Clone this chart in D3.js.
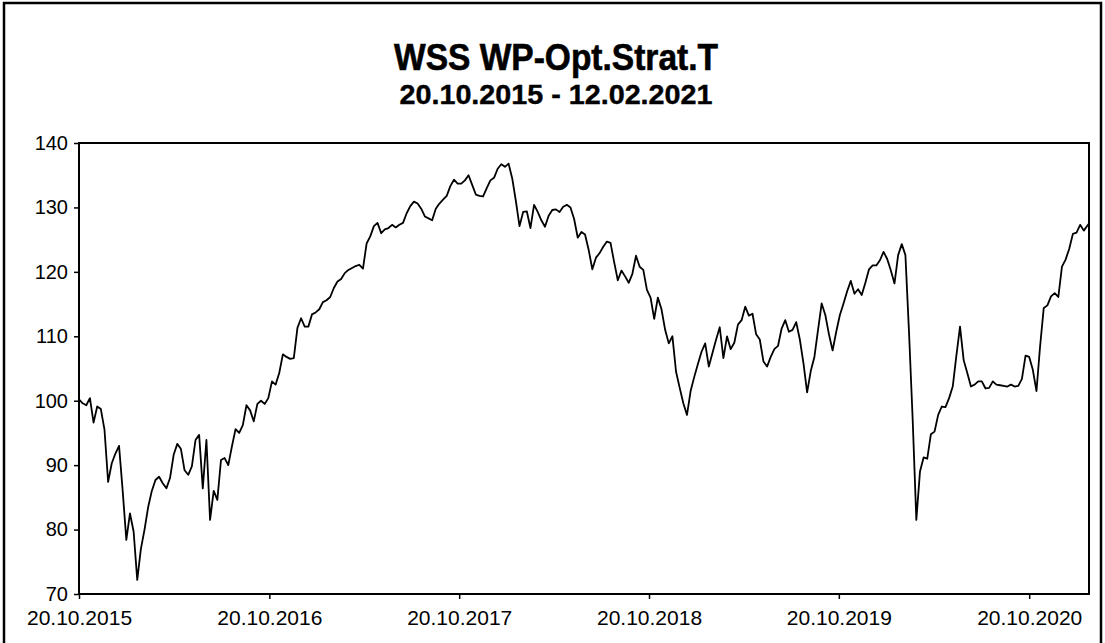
<!DOCTYPE html>
<html>
<head>
<meta charset="utf-8">
<script src="https://cdn.jsdelivr.net/npm/d3@7"></script>
<style>
  body { margin: 0; background: #fff; }
  svg { display: block; }
</style>
</head>
<body>
<svg width="1105" height="643"></svg>
<script>
const chartTitle = 'WSS WP-Opt.Strat.T';
const chartSubtitle = '20.10.2015 - 12.02.2021';

// weekly closes from 20.10.2015, last value is 12.02.2021
const startDate = '2015-10-20';
const endDate = '2021-02-12';
const values = [
  100.2, 99.6, 99.3, 100.4, 96.6, 99.1, 98.7, 95.5, 87.4, 90.3,
  91.8, 93.0, 86.0, 78.4, 82.5, 79.7, 72.2, 77.0, 80.0, 83.5,
  86.0, 87.7, 88.2, 87.2, 86.4, 88.0, 91.6, 93.3, 92.5, 89.2,
  88.5, 89.8, 93.9, 94.7, 86.4, 93.9, 81.5, 86.0, 84.6, 90.8,
  91.1, 90.0, 92.9, 95.6, 95.0, 96.2, 99.3, 98.5, 96.8, 99.5,
  100.0, 99.5, 100.4, 103.0, 102.5, 104.3, 107.2, 106.8, 106.5, 106.6,
  111.3, 112.8, 111.5, 111.5, 113.4, 113.7, 114.2, 115.3, 115.6, 116.1,
  117.5, 118.5, 118.9, 119.8, 120.3, 120.6, 120.9, 121.1, 120.5, 124.4,
  125.5, 127.1, 127.6, 126.0, 126.6, 126.8, 127.3, 126.9, 127.3, 127.6,
  129.1, 130.2, 130.9, 130.6, 129.8, 128.6, 128.3, 128.0, 129.8, 130.6,
  131.2, 131.8, 133.3, 134.3, 133.7, 133.7, 134.2, 135.0, 133.5, 132.0,
  131.8, 131.7, 133.0, 134.2, 134.6, 136.0, 136.7, 136.3, 136.8, 134.5,
  131.0, 127.1, 129.3, 129.4, 126.8, 130.4, 129.3, 128.0, 127.0, 128.7,
  129.6, 129.7, 129.3, 130.1, 130.4, 130.0, 128.2, 125.3, 126.2, 125.8,
  123.4, 120.4, 122.2, 122.9, 123.9, 124.7, 124.5, 121.5, 118.7, 120.2,
  119.3, 118.3, 119.7, 122.5, 120.8, 120.3, 117.2, 116.0, 112.7, 116.0,
  114.2, 111.0, 108.9, 110.0, 104.5, 102.0, 99.6, 97.8, 101.5, 103.7,
  105.7, 107.6, 108.9, 105.3, 107.4, 109.5, 111.4, 106.6, 110.0, 108.0,
  109.0, 111.8, 112.5, 114.6, 113.2, 113.5, 110.3, 109.5, 106.1, 105.3,
  106.8, 108.0, 108.5, 111.2, 112.5, 110.7, 111.0, 112.2, 109.5, 105.8,
  101.3, 104.6, 106.8, 111.0, 115.1, 113.3, 110.3, 107.8, 110.7, 113.3,
  115.1, 117.0, 118.6, 116.6, 117.3, 116.4, 118.3, 120.4, 121.0, 121.0,
  121.8, 123.1, 122.0, 120.2, 118.2, 122.6, 124.3, 122.6, 110.5, 97.0,
  81.5, 89.0, 91.2, 91.0, 94.8, 95.2, 97.8, 99.1, 99.0, 100.4,
  102.2, 107.0, 111.5, 106.3, 104.3, 102.2, 102.5, 103.0, 103.0, 101.9,
  102.0, 103.0, 102.5, 102.4, 102.3, 102.2, 102.5, 102.2, 102.3, 103.4,
  107.0, 106.8, 104.8, 101.5, 108.5, 114.4, 114.8, 116.2, 116.7, 116.1,
  120.8, 121.9, 123.6, 125.9, 126.1, 127.3, 126.4, 127.2,
  127.5
];

const xTickLabels = ['20.10.2015', '20.10.2016', '20.10.2017', '20.10.2018', '20.10.2019', '20.10.2020'];
const yTicks = [70, 80, 90, 100, 110, 120, 130, 140];

const parseIso = d3.timeParse('%Y-%m-%d');
const parseDe = d3.timeParse('%d.%m.%Y');
const start = parseIso(startDate);
const end = parseIso(endDate);

const data = values.map((v, i) => ({
    date: i === values.length - 1 ? end : d3.timeDay.offset(start, 7 * i),
    value: v
}));

const svg = d3.select('svg');
const font = "'Liberation Sans', Arial, sans-serif";

const margin = { top: 143, right: 16, bottom: 49, left: 79 };
const width = 1105, height = 643;
const innerWidth = width - margin.left - margin.right;
const innerHeight = height - margin.top - margin.bottom;

// outer frame (bottom edge falls outside the picture)
svg.append('path')
    .attr('d', 'M4,643V3H1101V643')
    .attr('fill', 'none')
    .attr('stroke', '#000')
    .attr('stroke-width', 2.5);

svg.append('text')
    .attr('x', 556).attr('y', 70)
    .attr('text-anchor', 'middle')
    .attr('font-family', font)
    .attr('font-weight', 'bold')
    .attr('font-size', 37)
    .attr('textLength', 324)
    .attr('lengthAdjust', 'spacingAndGlyphs')
    .attr('stroke', '#000')
    .attr('stroke-width', 0.6)
    .text(chartTitle);

svg.append('text')
    .attr('x', 556).attr('y', 104)
    .attr('text-anchor', 'middle')
    .attr('font-family', font)
    .attr('font-weight', 'bold')
    .attr('font-size', 27)
    .attr('textLength', 313)
    .attr('lengthAdjust', 'spacingAndGlyphs')
    .attr('stroke', '#000')
    .attr('stroke-width', 0.4)
    .text(chartSubtitle);

const xScale = d3.scaleTime()
    .domain([start, end])
    .range([0, innerWidth]);

const yScale = d3.scaleLinear()
    .domain([70, 140])
    .range([innerHeight, 0]);

const g = svg.append('g')
    .attr('transform', `translate(${margin.left},${margin.top})`);

const yAxis = d3.axisLeft(yScale)
    .tickValues(yTicks)
    .tickSize(5)
    .tickPadding(6);

const xAxis = d3.axisBottom(xScale)
    .tickValues(xTickLabels.map(parseDe))
    .tickFormat(d3.timeFormat('%d.%m.%Y'))
    .tickSize(5)
    .tickPadding(11);

const yAxisG = g.append('g').call(yAxis);
yAxisG.select('.domain').remove();
yAxisG.selectAll('line').attr('stroke-width', 1.5);
yAxisG.selectAll('text')
    .attr('font-family', font)
    .attr('font-size', 20)
    .attr('fill', '#000');

const xAxisG = g.append('g').call(xAxis)
    .attr('transform', `translate(0,${innerHeight})`);
xAxisG.select('.domain').remove();
xAxisG.selectAll('line').attr('stroke-width', 1.5);
xAxisG.selectAll('text')
    .attr('font-family', font)
    .attr('font-size', 21)
    .attr('fill', '#000');

g.append('rect')
    .attr('width', innerWidth)
    .attr('height', innerHeight)
    .attr('fill', 'none')
    .attr('stroke', '#000')
    .attr('stroke-width', 2);

const lineGenerator = d3.line()
    .x(d => xScale(d.date))
    .y(d => yScale(d.value));

g.append('path')
    .attr('fill', 'none')
    .attr('stroke', '#000')
    .attr('stroke-width', 1.8)
    .attr('stroke-linejoin', 'round')
    .attr('d', lineGenerator(data));
</script>
</body>
</html>
